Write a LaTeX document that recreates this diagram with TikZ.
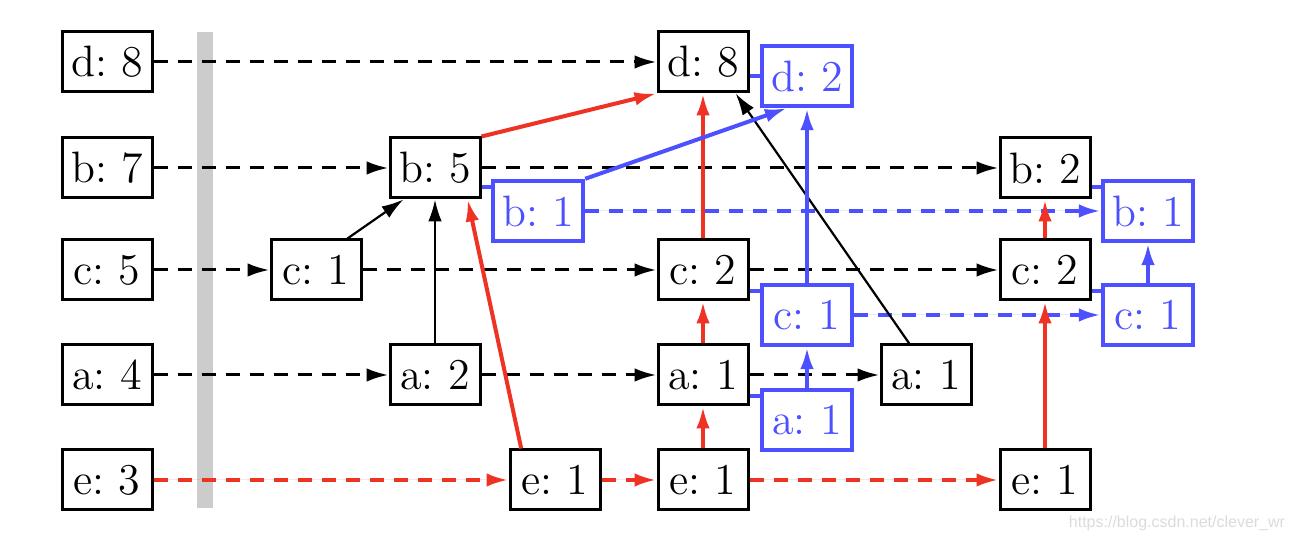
\documentclass[tikz,border=0pt]{standalone}
\usepackage{fontspec}
\newfontfamily\wmfont{Liberation Sans}
\usetikzlibrary{arrows.meta}
\definecolor{myblue}{RGB}{77,80,255}
\definecolor{myred}{RGB}{238,51,36}
\frenchspacing
\begin{document}
\begin{tikzpicture}[x=0.25pt,y=-0.25pt,
  font=\fontsize{11}{13}\selectfont,
  box/.style={draw, line width=0.75pt, minimum width=22.5pt, minimum height=15pt, inner sep=0pt},
  bbox/.style={box, draw=myblue, text=myblue, line width=1.1pt},
  tip/.style={-{Latex[length=5.5pt,width=3.4pt]}},
  dsh/.style={tip, dash pattern=on 3.5pt off 2.5pt, line width=0.75pt},
  rdsh/.style={dsh, draw=myred, fill=myred, line width=1pt},
  bdsh/.style={dsh, draw=myblue, fill=myblue, line width=1pt},
  rd/.style={tip, draw=myred, fill=myred, line width=1pt},
  bl/.style={tip, draw=myblue, fill=myblue, line width=1pt},
  bk/.style={tip, line width=0.55pt},
  link/.style={draw=myblue, line width=1pt}]
\useasboundingbox (0,0) rectangle (1296,542);
\fill[black!20] (197,32) rectangle (213,508);
% column 1
\node[box] (d8a) at (107,62) {d: 8};
\node[box] (b7) at (107,168) {b: 7};
\node[box] (c5) at (107,270) {c: 5};
\node[box] (a4) at (107,375) {a: 4};
\node[box] (e3) at (107,480) {e: 3};
% middle
\node[box] (c1) at (316,270) {c: 1};
\node[box] (b5) at (435,168) {b: 5};
\node[box] (a2) at (435,375) {a: 2};
\node[box] (e1a) at (555,480) {e: 1};
\node[box] (d8b) at (703,62) {d: 8};
\node[box] (c2a) at (703,270) {c: 2};
\node[box] (a1a) at (703,375) {a: 1};
\node[box] (e1b) at (703,480) {e: 1};
\node[box] (a1b) at (926,375) {a: 1};
\node[box] (b2) at (1045,168) {b: 2};
\node[box] (c2b) at (1045,270) {c: 2};
\node[box] (e1c) at (1045,480) {e: 1};
% blue
\node[bbox] (d2) at (807,76) {d: 2};
\node[bbox] (b1a) at (538,211) {b: 1};
\node[bbox] (c1a) at (807,315) {c: 1};
\node[bbox] (a1c) at (807,420) {a: 1};
\node[bbox] (b1b) at (1148,211) {b: 1};
\node[bbox] (c1b) at (1148,315) {c: 1};
% black dashed
\draw[dsh] (d8a) -- (d8b);
\draw[dsh] (b7) -- (b5);
\draw[dsh] (b5) -- (b2);
\draw[dsh] (c5) -- (c1);
\draw[dsh] (c1) -- (c2a);
\draw[dsh] (c2a) -- (c2b);
\draw[dsh] (a4) -- (a2);
\draw[dsh] (a2) -- (a1a);
\draw[dsh] (a1a) -- (a1b);
% red dashed
\draw[rdsh] (e3) -- (e1a);
\draw[rdsh] (e1a) -- (e1b);
\draw[rdsh] (e1b) -- (e1c);
% blue dashed
\draw[bdsh] (b1a) -- (b1b);
\draw[bdsh] (c1a) -- (c1b);
% red solid
\draw[rd] (e1a.137) -- (b5.316);
\draw[rd] (b5.north east) -- (d8b.south west);
\draw[rd] (c2a) -- (d8b);
\draw[rd] (a1a) -- (c2a);
\draw[rd] (e1b) -- (a1a);
\draw[rd] (e1c) -- (c2b);
\draw[rd] (c2b) -- (b2);
% black solid
\draw[bk] (c1.45) -- (b5.225);
\draw[bk] (a2) -- (b5);
\draw[bk] (a1b.118) -- (d8b.316);
% blue solid
\draw[bl] (b1a.north east) -- (d2.238);
\draw[bl] (c1a) -- (d2);
\draw[bl] (a1c) -- (c1a);
\draw[bl] (c1b) -- (b1b);
% blue links
\draw[link] (d8b.east |- d2.west) -- (d2.west);
\draw[link] (b5.east |- b1a.153) -- (b1a.153);
\draw[link] (c2a.east |- c1a.153) -- (c1a.153);
\draw[link] (a1a.east |- a1c.153) -- (a1c.153);
\draw[link] (b2.east |- b1b.153) -- (b1b.153);
\draw[link] (c2b.east |- c1b.153) -- (c1b.153);
% watermark
\node[text=black!14, font=\wmfont\fontsize{4}{5}\selectfont, inner sep=0pt] (wm) at (1177,523) {https://blog.csdn.net/clever\_wr};
\end{tikzpicture}
\end{document}
